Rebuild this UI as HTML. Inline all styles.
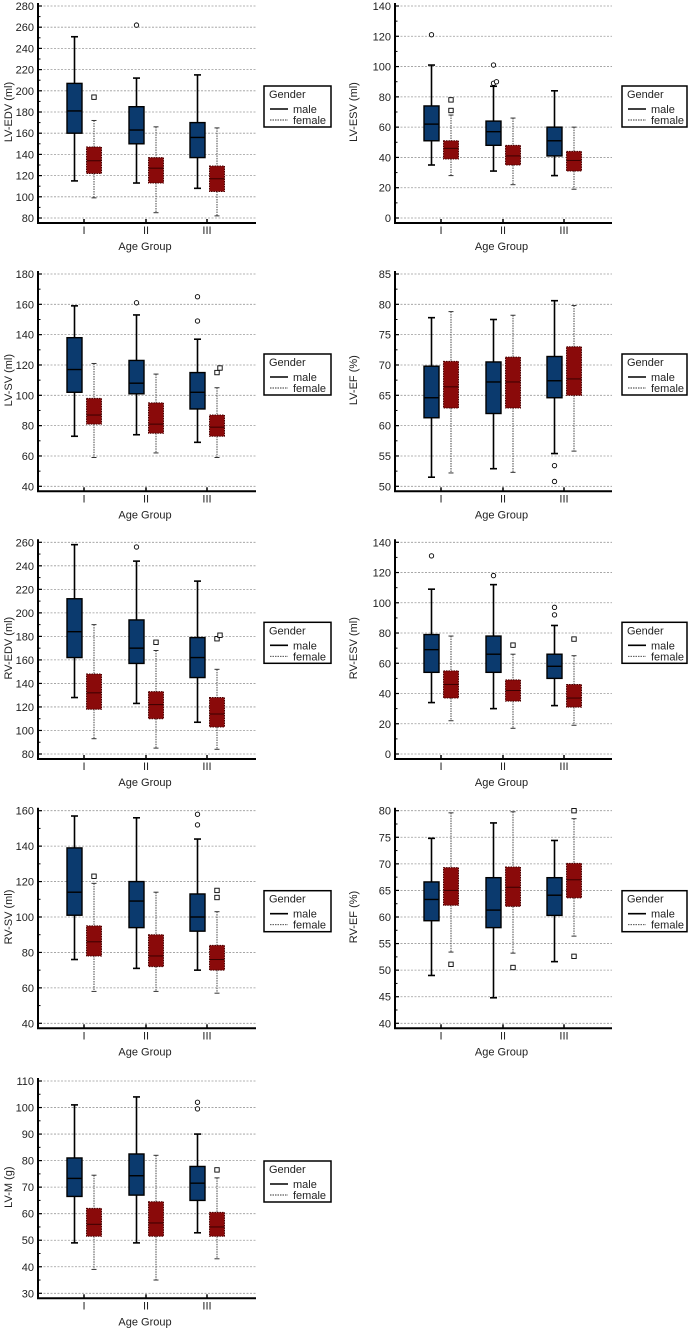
<!DOCTYPE html>
<html><head><meta charset="utf-8"><style>
html,body{margin:0;padding:0;background:#fff;}
svg{display:block;font-family:"Liberation Sans",Arial,sans-serif;}
</style></head><body>
<svg id="c" width="688" height="1328" viewBox="0 0 688 1328" xmlns="http://www.w3.org/2000/svg"></svg>
<script>
// ---- data: [min, q1, median, q3, max] per age group I, II, III ----
const groups = ["I","II","III"];
const lvEdvMale = [[115,160,181,207,251],[113,150,163,185,212],[108,137,156,170,215]];
const lvEdvFemale = [[99,122,134,147,172],[85,113,127,137,166],[82,105,117,129,165]];
const lvEdvMaleOut = [[],[262],[]];
const lvEdvFemaleOut = [[194],[],[]];

const lvEsvMale = [[35,51,62,74,101],[31,48,57,64,87],[28,41,51,60,84]];
const lvEsvFemale = [[28,39,46,51,68],[22,35,41,48,66],[19,31,38,44,60]];
const lvEsvMaleOut = [[121],[89,90,101],[]];
const lvEsvFemaleOut = [[71,78],[],[]];

const lvSvMale = [[73,102,117,138,159],[74,101,108,123,153],[69,91,102,115,137]];
const lvSvFemale = [[59,81,87,98,121],[62,75,81,95,114],[59,73,79,87,105]];
const lvSvMaleOut = [[],[161],[149,165]];
const lvSvFemaleOut = [[],[],[115,118]];

const lvEfMale = [[51.5,61.3,64.6,69.8,77.8],[52.9,62,67.2,70.5,77.5],[55.4,64.6,67.4,71.4,80.6]];
const lvEfFemale = [[52.2,62.9,66.4,70.6,78.8],[52.3,62.9,67.2,71.3,78.2],[55.8,65,67.7,73,79.8]];
const lvEfMaleOut = [[],[],[53.4,50.8]];
const lvEfFemaleOut = [[],[],[]];

const rvEdvMale = [[128,162,184,212,258],[123,157,170,194,244],[107,145,162,179,227]];
const rvEdvFemale = [[93,118,132,148,190],[85,110,122,133,168],[84,103,114,128,152]];
const rvEdvMaleOut = [[],[256],[]];
const rvEdvFemaleOut = [[],[175],[178,181]];

const rvEsvMale = [[34,54,69,79,109],[30,54,66,78,112],[32,50,58,66,85]];
const rvEsvFemale = [[22,37,46,55,78],[17,35,42,49,66],[19,31,37,46,65]];
const rvEsvMaleOut = [[131],[118],[92,97]];
const rvEsvFemaleOut = [[],[72],[76]];

const rvSvMale = [[76,101,114,139,157],[71,94,109,120,156],[70,92,100,113,144]];
const rvSvFemale = [[58,78,86,95,119],[58,72,78,90,114],[57,70,76,84,103]];
const rvSvMaleOut = [[],[],[152,158]];
const rvSvFemaleOut = [[123],[],[111,115]];

const rvEfMale = [[49,59.3,63.3,66.6,74.8],[44.8,58,61.3,67.4,77.7],[51.6,60.3,64.1,67.4,74.4]];
const rvEfFemale = [[53.4,62.2,65,69.3,79.6],[53.2,62,65.6,69.4,79.8],[56.4,63.6,67,70.1,78.5]];
const rvEfMaleOut = [[],[],[]];
const rvEfFemaleOut = [[51.1],[50.5],[52.6,80]];

const lvMMale = [[49,66.5,73.3,81,101],[49,67,74.3,82.5,104],[52.8,65,71.5,77.8,90]];
const lvMFemale = [[39,51.5,56,62,74.5],[35,51.5,56.5,64.5,82],[43,51.5,55,60.5,73.5]];
const lvMMaleOut = [[],[],[99.5,102]];
const lvMFemaleOut = [[],[],[76.5]];

// axis ranges [min,max,step]
const lvEdvAxis=[80,280,20], lvEsvAxis=[0,140,20], lvSvAxis=[40,180,20], lvEfAxis=[50,85,5];
const rvEdvAxis=[80,260,20], rvEsvAxis=[0,140,20], rvSvAxis=[40,160,20], rvEfAxis=[40,80,5], lvMAxis=[30,110,10];

const NS="http://www.w3.org/2000/svg";
const root=document.getElementById('c');
function mk(tag,attrs,parent){const e=document.createElementNS(NS,tag);for(const k in attrs)e.setAttribute(k,attrs[k]);(parent||root).appendChild(e);return e;}

const rowTop=[6,274,542.3,810.7,1081];
const rowBot=[218,486.3,754,1023.3,1293.3];
const cols=[{x0:38,x1:256,gx:[84,146,207],lx:264,lw:67,tx:12},{x0:395,x1:612,gx:[441,503,564],lx:622,lw:65,tx:357}];

function panel(name,title,col,row,axis,male,female,mOut,fOut){
  const C=cols[col],top=rowTop[row],bot=rowBot[row],ax=bot+5;
  const g=mk('g',{});
  
  
  const [mn,mx,st]=axis;
  const y=v=>bot-(v-mn)/(mx-mn)*(bot-top);
  for(let v=mn;v<=mx+1e-9;v+=st){
    const yy=y(v);
    const gl=mk('line',{x1:C.x0+2,x2:C.x1,y1:yy,y2:yy,stroke:'#9a9a9a','stroke-width':0.8,'stroke-dasharray':'2,1.5'},g);
    
    
    mk('line',{x1:C.x0,x2:C.x0+4,y1:yy,y2:yy,stroke:'#000','stroke-width':1.2},g);
    const t=mk('text',{x:C.x0-4,y:yy+4,'text-anchor':'end','font-size':11,fill:'#222'},g);
    t.textContent=String(v);
    
    
    if(v+st/2<mx) mk('line',{x1:C.x0,x2:C.x0+2.5,y1:y(v+st/2),y2:y(v+st/2),stroke:'#000','stroke-width':1},g);
  }
  const ya=mk('line',{x1:C.x0,x2:C.x0,y1:top-3,y2:ax,stroke:'#000','stroke-width':2},g);
  
  
  const xa=mk('line',{x1:C.x0-1,x2:C.x1,y1:ax,y2:ax,stroke:'#000','stroke-width':2},g);
  
  
  groups.forEach((lab,i)=>{
    const gx=C.gx[i];
    mk('line',{x1:gx,x2:gx,y1:ax-4,y2:ax,stroke:'#000','stroke-width':1.5},g);
    const t=mk('text',{x:gx,y:ax+11,'text-anchor':'middle','font-size':11,fill:'#222'},g);
    t.textContent=lab;
    
    
    box(g,gx-9.5,male[i],mOut[i],y,true);
    box(g,gx+10,female[i],fOut[i],y,false);
  });
  const xt=mk('text',{x:(C.x0+C.x1)/2-2,y:ax+27,'text-anchor':'middle','font-size':11,fill:'#222'},g);
  xt.textContent='Age Group';
  
  
  const cy=(top+bot)/2;
  const yt=mk('text',{x:C.tx,y:cy,'text-anchor':'middle','font-size':11,fill:'#222',transform:`rotate(-90 ${C.tx} ${cy})`},g);
  yt.textContent=title;
  
  
  const lg=mk('g',{},g);
  
  
  const ly=top+80;
  mk('rect',{x:C.lx,y:ly,width:C.lw,height:41,fill:'#fff',stroke:'#000','stroke-width':1.5},lg);
  const lt=mk('text',{x:C.lx+5,y:ly+12,'font-size':11,fill:'#222'},lg);lt.textContent='Gender';
  mk('line',{x1:C.lx+6,x2:C.lx+24,y1:ly+23,y2:ly+23,stroke:'#000','stroke-width':1.6},lg);
  const m=mk('text',{x:C.lx+29,y:ly+27,'font-size':11,fill:'#222'},lg);m.textContent='male';
  
  
  mk('line',{x1:C.lx+6,x2:C.lx+24,y1:ly+34,y2:ly+34,stroke:'#333','stroke-width':0.9,'stroke-dasharray':'1.5,1'},lg);
  const f=mk('text',{x:C.lx+29,y:ly+38,'font-size':11,fill:'#222'},lg);f.textContent='female';
  
  
}
function box(g,cx,d,outs,y,isMale){
  const [mn,q1,md,q3,mx]=d;
  const bg=mk('g',{},g);
  
  
  const ws=isMale?{stroke:'#000','stroke-width':1.6}:{stroke:'#333','stroke-width':0.9,'stroke-dasharray':'1.5,1'};
  const cw=isMale?3.5:2.5;
  mk('line',Object.assign({x1:cx,x2:cx,y1:y(mx),y2:y(q3)},ws),bg);
  mk('line',Object.assign({x1:cx,x2:cx,y1:y(q1),y2:y(mn)},ws),bg);
  mk('line',{x1:cx-cw,x2:cx+cw,y1:y(mx),y2:y(mx),stroke:isMale?'#000':'#333','stroke-width':isMale?1.6:1},bg);
  mk('line',{x1:cx-cw,x2:cx+cw,y1:y(mn),y2:y(mn),stroke:isMale?'#000':'#333','stroke-width':isMale?1.6:1},bg);
  mk('rect',{x:cx-7.5,y:y(q3),width:15,height:y(q1)-y(q3),fill:isMale?'#0b3a6e':'#8a0a0a',stroke:isMale?'#000':'#4a0000','stroke-width':isMale?1.4:1,'stroke-dasharray':isMale?'none':'1.5,1'},bg);
  mk('line',{x1:cx-7.5,x2:cx+7.5,y1:y(md),y2:y(md),stroke:isMale?'#000':'#3a0000','stroke-width':isMale?1.4:1},bg);
  outs.forEach((v,k)=>{
    const ox=cx+(k>0&&Math.abs(y(v)-y(outs[k-1]))<6?3:0);
    let o;
    if(isMale) o=mk('circle',{cx:ox,cy:y(v),r:2.2,fill:'#fff',stroke:'#000','stroke-width':0.9},bg);
    else o=mk('rect',{x:ox-2.2,y:y(v)-2.2,width:4.4,height:4.4,fill:'#fff',stroke:'#000','stroke-width':0.9},bg);
    
    
  });
}
panel('lv-edv','LV-EDV (ml)',0,0,lvEdvAxis,lvEdvMale,lvEdvFemale,lvEdvMaleOut,lvEdvFemaleOut);
panel('lv-esv','LV-ESV (ml)',1,0,lvEsvAxis,lvEsvMale,lvEsvFemale,lvEsvMaleOut,lvEsvFemaleOut);
panel('lv-sv','LV-SV (ml)',0,1,lvSvAxis,lvSvMale,lvSvFemale,lvSvMaleOut,lvSvFemaleOut);
panel('lv-ef','LV-EF (%)',1,1,lvEfAxis,lvEfMale,lvEfFemale,lvEfMaleOut,lvEfFemaleOut);
panel('rv-edv','RV-EDV (ml)',0,2,rvEdvAxis,rvEdvMale,rvEdvFemale,rvEdvMaleOut,rvEdvFemaleOut);
panel('rv-esv','RV-ESV (ml)',1,2,rvEsvAxis,rvEsvMale,rvEsvFemale,rvEsvMaleOut,rvEsvFemaleOut);
panel('rv-sv','RV-SV (ml)',0,3,rvSvAxis,rvSvMale,rvSvFemale,rvSvMaleOut,rvSvFemaleOut);
panel('rv-ef','RV-EF (%)',1,3,rvEfAxis,rvEfMale,rvEfFemale,rvEfMaleOut,rvEfFemaleOut);
panel('lv-m','LV-M (g)',0,4,lvMAxis,lvMMale,lvMFemale,lvMMaleOut,lvMFemaleOut);
</script>
</body></html>
